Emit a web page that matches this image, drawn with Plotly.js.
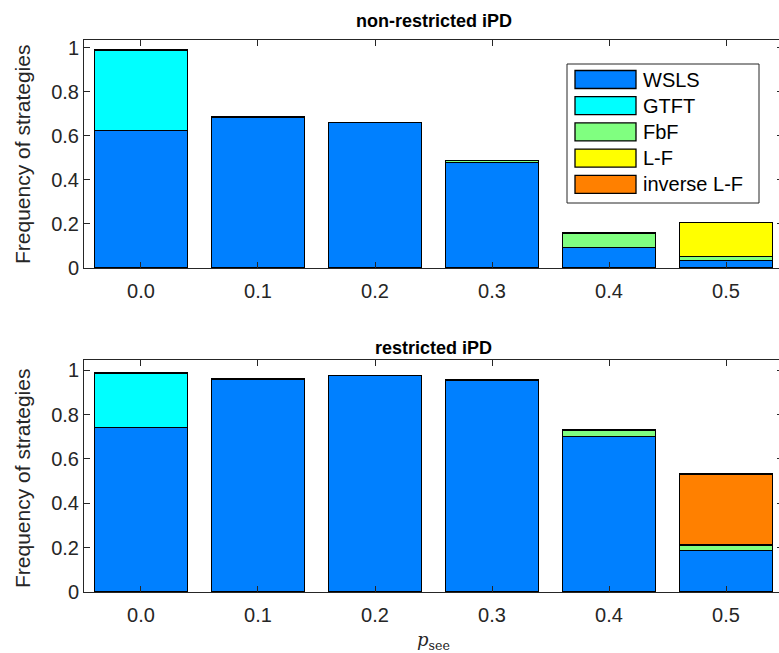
<!DOCTYPE html>
<html>
<head>
<meta charset="utf-8">
<script src="https://cdn.plot.ly/plotly-3.0.1.min.js"></script>
<style>
  html, body { margin: 0; padding: 0; overflow: hidden; background: #fff; }
  #chart { width: 786px; height: 653px; }
</style>
</head>
<body>
<div id="chart"></div>
<script>
// Probability of seeing the partner's move
const pSee = ['0.0', '0.1', '0.2', '0.3', '0.4', '0.5'];

const strategies = ['WSLS', 'GTFT', 'FbF', 'L-F', 'inverse L-F'];
const colors = ['#0080FF', '#00FFFF', '#80FF80', '#FFFF00', '#FF8000'];

// non-restricted iPD: frequency of each strategy
const freeWSLS    = [0.624, 0.684, 0.659, 0.477, 0.092, 0.035];
const freeGTFT    = [0.365, 0.002, 0.002, 0.000, 0.000, 0.000];
const freeFbF     = [0.000, 0.000, 0.000, 0.011, 0.067, 0.016];
const freeLF      = [0.000, 0.000, 0.000, 0.000, 0.003, 0.156];
const freeInvLF   = [0.000, 0.000, 0.000, 0.000, 0.000, 0.000];

// restricted iPD: frequency of each strategy
const restWSLS    = [0.743, 0.961, 0.975, 0.954, 0.700, 0.186];
const restGTFT    = [0.245, 0.002, 0.002, 0.002, 0.000, 0.000];
const restFbF     = [0.000, 0.000, 0.000, 0.000, 0.031, 0.026];
const restLF      = [0.000, 0.000, 0.000, 0.000, 0.000, 0.000];
const restInvLF   = [0.000, 0.000, 0.000, 0.000, 0.000, 0.320];

const panels = [
  { title: 'non-restricted iPD', series: [freeWSLS, freeGTFT, freeFbF, freeLF, freeInvLF], xa: 'x', ya: 'y' },
  { title: 'restricted iPD', series: [restWSLS, restGTFT, restFbF, restLF, restInvLF], xa: 'x2', ya: 'y2' }
];

const FONT = 'Liberation Sans, Arial, Helvetica, sans-serif';
const INK = '#262626';

const traces = [];
panels.forEach((p) => {
  p.series.forEach((vals, si) => {
    traces.push({
      type: 'bar',
      name: strategies[si],
      x: pSee,
      y: vals,
      xaxis: p.xa,
      yaxis: p.ya,
      marker: { color: colors[si], line: { color: '#000', width: 1.3 } },
      showlegend: false,
      hoverinfo: 'x+y+name'
    });
  });
});

// plot area in pixels: left 84, right 783, top 40, bottom 592
const L = 84, R = 783, T = 40, B = 592;
const px = v => (v - L) / (R - L);
const py = v => (B - v) / (B - T);

function xAxis(anchor) {
  return {
    type: 'category',
    range: [-0.487, 5.487],
    anchor: anchor,
    showline: true, linecolor: INK, linewidth: 1,
    mirror: 'ticks', ticks: 'inside', ticklen: 6, tickcolor: INK,
    showgrid: false, zeroline: false,
    ticklabelstandoff: 5,
    tickfont: { family: FONT, size: 20, color: INK }
  };
}
function yAxis(domain, top, anchor) {
  return {
    domain: domain,
    range: [0, top],
    anchor: anchor,
    tickvals: [0, 0.2, 0.4, 0.6, 0.8, 1],
    ticktext: ['0', '0.2', '0.4', '0.6', '0.8', '1'],
    showline: true, linecolor: INK, linewidth: 1,
    mirror: 'ticks', ticks: 'inside', ticklen: 6, tickcolor: INK,
    showgrid: false, zeroline: false,
    tickfont: { family: FONT, size: 20, color: INK }
  };
}

function note(text, x, y, font, extra) {
  return Object.assign({
    text: text, x: px(x), y: py(y), xref: 'paper', yref: 'paper',
    xanchor: 'center', yanchor: 'middle', showarrow: false, font: font
  }, extra || {});
}

const annotations = [
  note('<b>' + panels[0].title + '</b>', 433.5, 21, { family: FONT, size: 18, color: '#000' }),
  note('<b>' + panels[1].title + '</b>', 433.5, 348, { family: FONT, size: 18, color: '#000' }),
  note('Frequency of strategies', 22, 155, { family: FONT, size: 21, color: INK }, { textangle: -90 }),
  note('Frequency of strategies', 22, 479, { family: FONT, size: 21, color: INK }, { textangle: -90 }),
  note('<i>p</i><sub>see</sub>', 433.5, 641, { family: 'DejaVu Serif, Liberation Serif, serif', size: 18, color: INK })
];

// legend box for the top panel
const shapes = [
  { type: 'rect', xref: 'paper', yref: 'paper', x0: px(567), x1: px(759), y0: py(64), y1: py(203),
    line: { color: INK, width: 1 }, fillcolor: '#fff', layer: 'above' }
];
const rowY = [79.5, 105.7, 131.9, 158.1, 184.3];
strategies.forEach((name, i) => {
  shapes.push({ type: 'rect', xref: 'paper', yref: 'paper',
    x0: px(575), x1: px(636), y0: py(rowY[i] - 9), y1: py(rowY[i] + 9),
    line: { color: '#000', width: 1.3 }, fillcolor: colors[i], layer: 'above' });
  annotations.push(note(name, 641, rowY[i], { family: FONT, size: 20, color: '#000' }, { xanchor: 'left' }));
});

const layout = {
  width: 786, height: 653,
  margin: { l: L, r: 786 - R, t: T, b: 653 - B },
  paper_bgcolor: '#fff', plot_bgcolor: '#fff',
  barmode: 'stack', bargap: 0.2,
  xaxis: xAxis('y'),
  yaxis: yAxis([py(268), 1], 1.034, 'x'),
  xaxis2: xAxis('y2'),
  yaxis2: yAxis([0, py(360)], 1.046, 'x2'),
  annotations: annotations,
  shapes: shapes,
  showlegend: false
};

Plotly.newPlot('chart', traces, layout, { displayModeBar: false, staticPlot: true });
</script>
</body>
</html>
